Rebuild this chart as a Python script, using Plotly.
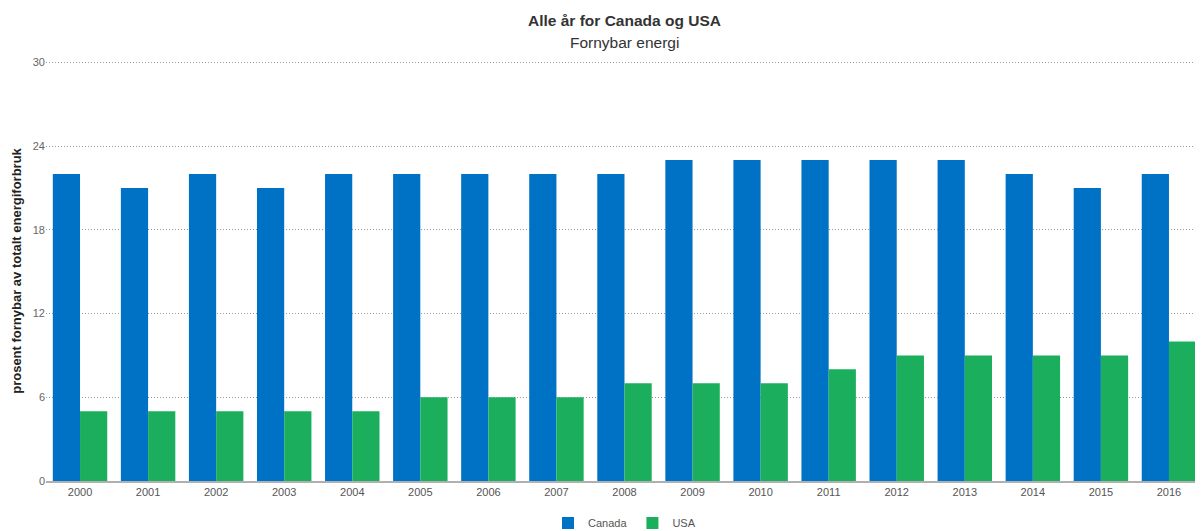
import plotly.graph_objects as go

years = [str(y) for y in range(2000, 2017)]
canada = [22, 21, 22, 21, 22, 22, 22, 22, 22, 23, 23, 23, 23, 23, 22, 21, 22]
usa = [5, 5, 5, 5, 5, 6, 6, 6, 7, 7, 7, 8, 9, 9, 9, 9, 10]
y_ticks = [0, 6, 12, 18, 24, 30]

fig = go.Figure()
fig.add_trace(go.Bar(x=years, y=canada, name="Canada", marker_color="#0072C6", marker_line_width=0))
fig.add_trace(go.Bar(x=years, y=usa, name="USA", marker_color="#1BAF5D", marker_line_width=0))

font = "Liberation Sans, Arial, sans-serif"
# page body has an 8px margin, so the figure is sized/offset to compensate
fig.update_layout(
    width=1195, height=523,
    margin=dict(l=38, r=0, t=53, b=50, autoexpand=False),
    paper_bgcolor="white", plot_bgcolor="white",
    barmode="group", bargap=0.2, bargroupgap=0,
    font=dict(family=font, color="#555555", size=11),
    showlegend=True,
    legend=dict(orientation="h", x=0.5, xanchor="center", y=-0.1, yanchor="middle",
                font=dict(size=11, color="#555555"), itemwidth=30),
    xaxis=dict(showgrid=False, showline=True, linecolor="#b0b0b0", linewidth=2,
               ticks="", tickfont=dict(size=11, color="#555555"), automargin=False),
    yaxis=dict(range=[0, 30.1], tickvals=y_ticks, showgrid=True, gridcolor="#9a9a9a",
               griddash="1px,2px", gridwidth=1, zeroline=False, showline=False,
               ticks="", tickfont=dict(size=11, color="#666666"), automargin=False,
               title=dict(text="<b>prosent fornybar av totalt energiforbruk</b>",
                          font=dict(size=13, color="#222222"), standoff=8)),
    annotations=[
        dict(text="<b>Alle år for Canada og USA</b>", xref="paper", yref="paper",
             x=0.5, y=1, yshift=41, showarrow=False, xanchor="center", yanchor="middle",
             font=dict(size=15.5, color="#333333", family=font)),
        dict(text="Fornybar energi", xref="paper", yref="paper",
             x=0.5, y=1, yshift=19, showarrow=False, xanchor="center", yanchor="middle",
             font=dict(size=15.5, color="#333333", family=font)),
    ],
)
fig.write_html("out.html")
